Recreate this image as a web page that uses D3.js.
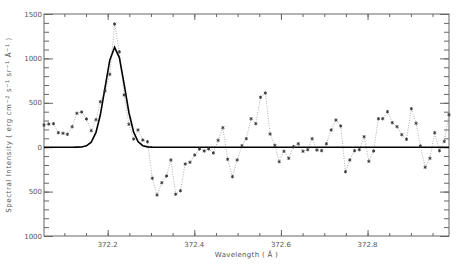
<!DOCTYPE html>
<html><head><meta charset="utf-8">
<script src="https://cdn.jsdelivr.net/npm/d3@7"></script>
<style>html,body{margin:0;padding:0;background:#fff;}svg{display:block;}</style>
</head><body>
<script>
const wavelength = [372.053,372.064,372.075,372.086,372.097,372.107,372.118,372.129,372.140,372.151,
372.162,372.173,372.183,372.194,372.205,372.216,372.227,372.238,372.249,372.260,
372.270,372.281,372.292,372.303,372.314,372.325,372.336,372.346,372.357,372.368,
372.379,372.390,372.401,372.412,372.423,372.433,372.444,372.455,372.466,372.477,
372.488,372.499,372.510,372.520,372.531,372.542,372.553,372.564,372.575,372.586,
372.596,372.607,372.618,372.629,372.640,372.651,372.662,372.672,372.683,372.694,
372.705,372.716,372.727,372.738,372.749,372.759,372.770,372.781,372.792,372.803,
372.814,372.825,372.835,372.846,372.857,372.868,372.879,372.890,372.901,372.912,
372.922,372.933,372.944,372.955,372.966,372.977,372.988];
const observed = [250,261,265,163,157,145,231,382,396,318,
186,310,512,633,821,1387,1075,588,258,92,
194,81,62,-350,-538,-400,-324,-144,-530,-490,
-189,-170,-88,-20,-43,-20,-65,78,220,-136,
-332,-144,17,96,321,265,562,610,149,21,
-163,-46,-125,6,39,-46,-28,96,-32,-39,
39,194,306,239,-276,-144,-39,-28,118,-159,
-43,321,321,400,276,231,141,89,434,269,
14,-226,-125,163,-39,66,366];
const fit = [0,0,0,0,0,0,0,1,3,15,
56,167,362,673,983,1125,1009,710,391,169,
64,17,4,1,0,0,0,0,0,0,
0,0,0,0,0,0,0,0,0,0,
0,0,0,0,0,0,0,0,0,0,
0,0,0,0,0,0,0,0,0,0,
0,0,0,0,0,0,0,0,0,0,
0,0,0,0,0,0,0,0,0,0,
0,0,0,0,0,0,0];
const xMajorTicks = [372.2, 372.4, 372.6, 372.8];
const yMajorTicks = [1500, 1000, 500, 0, -500, -1000];
const yTickLabels = ["1500", "1000", "500", "0", "500", "1000"];
const xLabel = "Wavelength ( \u00C5 )";

const W = 463, H = 266;
const L = 44, R = 449, T = 14, B = 236;
const svg = d3.select("body").append("svg").attr("width", W).attr("height", H);
const x = d3.scaleLinear().domain([wavelength[0], wavelength[wavelength.length-1]]).range([L, R]);
const y = d3.scaleLinear().domain([-1000, 1500]).range([B, T]);
const axisCol = "#666", textCol = "#555";
const font = "DejaVu Sans";

const xMinor = d3.range(372.05, 373.0, 0.05).filter(v => v >= x.domain()[0] && v <= x.domain()[1]);
const yMinor = d3.range(-1000, 1501, 100);

svg.append("rect").attr("x", L).attr("y", T).attr("width", R-L).attr("height", B-T)
  .attr("fill", "none").attr("stroke", axisCol).attr("stroke-width", 1);

const xa = (ticks, len, side) => (side === "bottom" ? d3.axisTop(x) : d3.axisBottom(x)).tickValues(ticks).tickSize(len).tickFormat("");
const ya = (ticks, len, side) => (side === "left" ? d3.axisRight(y) : d3.axisLeft(y)).tickValues(ticks).tickSize(len).tickFormat("");
function addAxis(gen, tr) {
  const g = svg.append("g").attr("transform", tr).call(gen);
  g.select(".domain").remove();
  g.selectAll("line").attr("stroke", axisCol);
}
addAxis(xa(xMinor, 3, "bottom"), `translate(0,${B})`);
addAxis(xa(xMajorTicks, 6, "bottom"), `translate(0,${B})`);
addAxis(xa(xMinor, 3, "top"), `translate(0,${T})`);
addAxis(xa(xMajorTicks, 6, "top"), `translate(0,${T})`);
addAxis(ya(yMinor, 5, "left"), `translate(${L},0)`);
addAxis(ya(yMajorTicks, 9, "left"), `translate(${L},0)`);
addAxis(ya(yMinor, 5, "right"), `translate(${R},0)`);
addAxis(ya(yMajorTicks, 9, "right"), `translate(${R},0)`);

svg.append("g").selectAll("text").data(xMajorTicks).join("text")
  .attr("x", d => x(d)).attr("y", B + 11).attr("text-anchor", "middle")
  .attr("font-family", font).attr("font-size", 7).attr("fill", textCol).text(d => d.toFixed(1));
svg.append("g").selectAll("text").data(yMajorTicks).join("text")
  .attr("x", L - 2).attr("y", d => y(d) + 2.5).attr("text-anchor", "end")
  .attr("font-family", font).attr("font-size", 7).attr("fill", textCol).text((d, i) => yTickLabels[i]);

svg.append("text").attr("x", (L + R) / 2).attr("y", B + 21).attr("text-anchor", "middle")
  .attr("font-family", font).attr("font-size", 7).attr("letter-spacing", 0.3).attr("fill", textCol).text(xLabel);
const yt = svg.append("text").attr("transform", `translate(11,${(T + B) / 2}) rotate(-90)`)
  .attr("text-anchor", "middle").attr("font-family", font).attr("font-size", 7)
  .attr("letter-spacing", 0.6).attr("fill", textCol);
const parts = [["Spectral Intensity ( erg cm", 0], ["\u22122", 1], [" s", 0], ["\u22121", 1], [" sr", 0], ["\u22121", 1], [" \u00C5", 0], ["\u22121", 1], [" )", 0]];
let prevSup = false;
parts.forEach(([t, sup]) => {
  const ts = yt.append("tspan").text(t);
  if (sup && !prevSup) ts.attr("dy", -2.5).attr("font-size", 5);
  if (!sup && prevSup) ts.attr("dy", 2.5);
  prevSup = !!sup;
});

const pts = wavelength.map((w, i) => [w, observed[i], fit[i]]);
svg.append("path").datum(pts)
  .attr("d", d3.line().x(d => x(d[0])).y(d => y(d[1])))
  .attr("fill", "none").attr("stroke", "#999").attr("stroke-width", 0.8).attr("stroke-dasharray", "1,1.5");
svg.append("path").datum(pts)
  .attr("d", d3.line().x(d => x(d[0])).y(d => y(d[2])))
  .attr("fill", "none").attr("stroke", "#000").attr("stroke-width", 1.6);
svg.append("g").selectAll("path").data(pts).join("path")
  .attr("transform", d => `translate(${x(d[0])},${y(d[1])})`)
  .attr("d", d3.symbol(d3.symbolAsterisk, 8))
  .attr("fill", "none").attr("stroke", "#333").attr("stroke-width", 0.9);
</script>
</body></html>
